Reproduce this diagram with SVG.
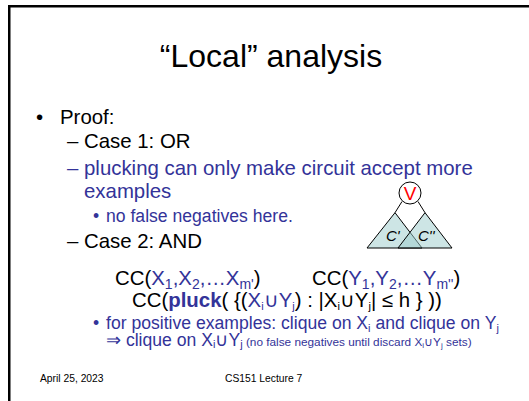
<svg xmlns="http://www.w3.org/2000/svg" width="529" height="401" viewBox="0 0 529 401">
  <style>
    text { font-family: "Liberation Sans", Arial, sans-serif; }
    .title { font-size: 32px; fill: #000; }
    .l1 { font-size: 20.4px; fill: #000; }
    .l2 { font-size: 17.6px; fill: #333399; }
    .blue { fill: #333399; }
    .blk { fill: #000; }
    .small { font-size: 11.8px; }
    .foot { font-size: 10.3px; fill: #000; }
    .tri { fill: #9ccccc; fill-opacity: 0.5; stroke: #000; stroke-width: 1; }
    .edge { stroke: #000; stroke-width: 1; fill: none; }
  </style>

  <rect x="0" y="0" width="529" height="401" fill="#fff"/>
  <!-- slide frame -->
  <rect x="9.25" y="6.25" width="540" height="420" fill="none" stroke="#000" stroke-width="2.5"/>

  <text class="title" x="271" y="67" text-anchor="middle">“Local” analysis</text>

  <text class="l1" x="36" y="124">•</text>
  <text class="l1" x="60" y="124">Proof:</text>

  <text class="l1" x="67" y="148">– Case 1: OR</text>
  <text class="l1 blue" x="67" y="175">– plucking can only make circuit accept more</text>
  <text class="l1 blue" x="84" y="198">examples</text>
  <text class="l2" x="93" y="222" font-size="12">•</text>
  <text class="l2" x="106" y="222">no false negatives here.</text>
  <text class="l1" x="67" y="248">– Case 2: AND</text>

  <!-- OR gate over two sub-circuits -->
  <g id="circuit">
    <g id="sub-left">
      <polygon class="tri" points="395,212.7 367,248 422,248"/>
      <text x="386" y="241" font-size="15" font-style="italic">C'</text>
    </g>
    <g id="sub-right">
      <polygon class="tri" points="425,212.7 398,248 452,248"/>
      <text x="418" y="241" font-size="15" font-style="italic">C''</text>
    </g>
    <g id="connectors">
      <line class="edge" x1="402" y1="201.5" x2="395" y2="212.7"/>
      <line class="edge" x1="418" y1="201.5" x2="425" y2="212.7"/>
    </g>
    <g id="or-gate">
      <circle cx="410" cy="193" r="11" fill="#fff" stroke="#000" stroke-width="1"/>
      <text x="410" y="200" font-size="19" fill="#ff0000" text-anchor="middle">V</text>
    </g>
  </g>

  <text class="l1" x="115" y="285">CC(<tspan class="blue">X<tspan font-size="14" dy="4">1</tspan><tspan dy="-4">,X</tspan><tspan font-size="14" dy="4">2</tspan><tspan dy="-4">,…X</tspan><tspan font-size="14" dy="4">m'</tspan></tspan><tspan dy="-4">)</tspan></text>
  <text class="l1" x="312" y="285">CC(<tspan class="blue">Y<tspan font-size="14" dy="4">1</tspan><tspan dy="-4">,Y</tspan><tspan font-size="14" dy="4">2</tspan><tspan dy="-4">,…Y</tspan><tspan font-size="14" dy="4">m''</tspan></tspan><tspan dy="-4">)</tspan></text>

  <text class="l1" x="132" y="307">CC(<tspan class="blue" font-weight="bold">pluck</tspan>( {(<tspan class="blue">X<tspan font-size="11" dy="3">i</tspan><tspan dy="-3">∪Y</tspan><tspan font-size="11" dy="3">j</tspan></tspan><tspan dy="-3">) : |X</tspan><tspan font-size="11" dy="3">i</tspan><tspan dy="-3">∪Y</tspan><tspan font-size="11" dy="3">j</tspan><tspan dy="-3">| ≤ h } ))</tspan></text>

  <text class="l2" x="93" y="329" font-size="12">•</text>
  <text class="l2" x="106" y="329">for positive examples: clique on X<tspan font-size="11" dy="3">i</tspan><tspan dy="-3"> and clique on Y</tspan><tspan font-size="11" dy="3">j</tspan></text>
  <text class="l2" x="106" y="346">⇒ clique on X<tspan font-size="11" dy="2">i</tspan><tspan dy="-2">∪Y</tspan><tspan font-size="11" dy="2">j</tspan><tspan class="small" dy="-2"> (no false negatives until discard X<tspan font-size="8" dy="2">i</tspan><tspan dy="-2">∪Y</tspan><tspan font-size="8" dy="2">j</tspan><tspan dy="-2"> sets)</tspan></tspan></text>

  <text class="foot" x="40" y="382">April 25, 2023</text>
  <text class="foot" x="225" y="382">CS151 Lecture 7</text>
</svg>
